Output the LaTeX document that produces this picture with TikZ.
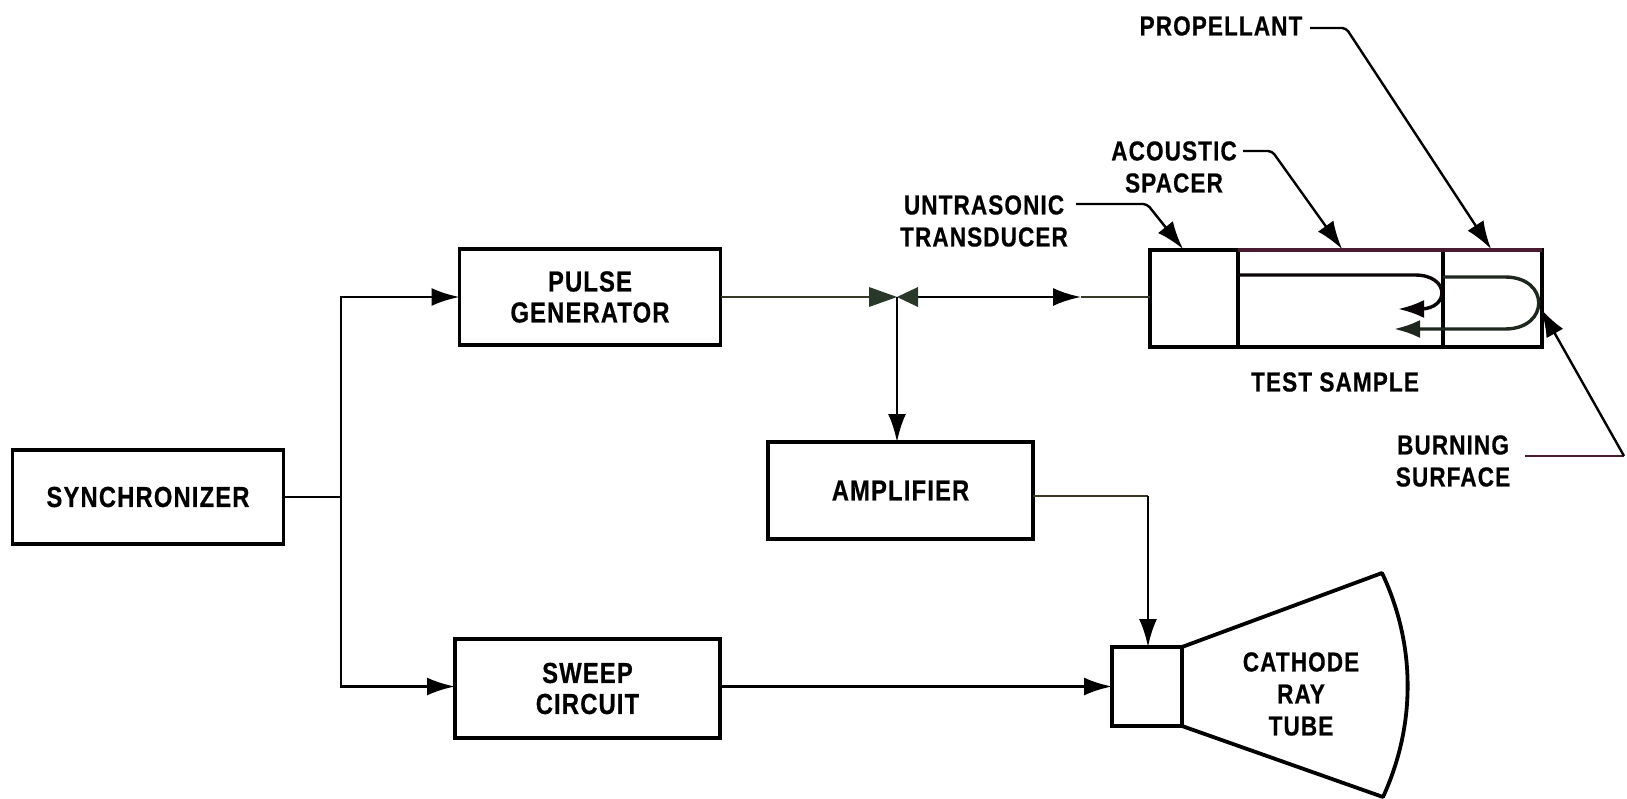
\documentclass[tikz,border=0pt]{standalone}
\usepackage{fontspec}
\setmainfont[FakeStretch=0.82,LetterSpace=4,FakeBold=0.5]{Liberation Sans Bold}
\usetikzlibrary{arrows.meta,calc}
\definecolor{maroon}{HTML}{4A1A30}
\definecolor{dkgreen}{HTML}{2A382A}
\definecolor{olive}{HTML}{353A26}
\definecolor{brownish}{HTML}{3E3620}
\tikzset{
  blockbox/.style={draw=black,line width=3.4pt,outer sep=0pt,inner sep=0pt,align=center,font=\fontsize{29}{31}\selectfont,fill=white},
  plain/.style={draw=black,line width=3.4pt,outer sep=0pt,inner sep=0pt,fill=white},
  lbl/.style={inner sep=0pt,align=center,font=\fontsize{27.5}{32}\selectfont},
  wire/.style={line width=2.8pt,draw=black},
  tip/.style={-{Latex[length=28pt,width=18pt]}},
  ptr/.style={line width=2.4pt,-{Latex[length=28pt,width=19pt]},rounded corners=4pt},
}
\begin{document}
\begin{tikzpicture}[x=1pt,y=-1pt]
\useasboundingbox (0,0) rectangle (1627,799);
% blocks
\node[blockbox,minimum width=271pt,minimum height=94pt] (sync) at (148,497) {\raisebox{-3pt}{SYNCHRONIZER}};
\node[blockbox,minimum width=261pt,minimum height=96pt] (pulse) at (590,297) {PULSE\\GENERATOR};
\node[blockbox,minimum width=265pt,minimum height=97pt] (amp) at (900.5,490.5) {\raisebox{-3pt}{AMPLIFIER}};
\node[blockbox,minimum width=265pt,minimum height=99pt] (sweep) at (587.5,688.5) {SWEEP\\CIRCUIT};
\node[plain,minimum width=70pt,minimum height=79pt] (gun) at (1147,686.5) {};
% test sample
\node[plain,minimum width=88pt,minimum height=97pt] (trans) at (1194,298.5) {};
\node[plain,minimum width=205pt,minimum height=97pt] (spacer) at (1340.5,298.5) {};
\node[plain,minimum width=99pt,minimum height=97pt] (prop) at (1492.5,298.5) {};
\draw[maroon,line width=3.4pt] (spacer.north west) -- (prop.north east);
% tube
\coordinate (tubetop) at (1382,573);
\coordinate (tubebot) at (1383,797);
\draw[line width=3.8pt,line join=round] (gun.north east) -- (tubetop)
  .. controls (1416,645) and (1416,725) .. (tubebot) -- (gun.south east);
% junctions
\coordinate (branch) at (341,497);
\coordinate (bow) at (897,297);
\draw[wire] (sync.east) -- (branch);
\draw[wire,tip] (branch) |- (pulse.west);
\draw[wire,tip] (branch) |- (sweep.west |- gun.west);
\coordinate (bowl) at (869,297);
\coordinate (bowr) at (918,297);
\draw[wire,olive] (pulse.east) -- (bowl);
\fill[dkgreen] (869,287) -- (bow) -- (869,307) -- cycle;
\fill[dkgreen] (918,287) -- (bow) -- (918,307) -- cycle;
\coordinate (midtip) at (1081,297);
\draw[wire,olive] (midtip) -- (trans.west |- midtip);
\draw[wire,tip] (bowr) -- (midtip);
\draw[wire,tip] (bow) -- (bow |- amp.north);
\coordinate (ampdrop) at (1148,496);
\draw[wire,brownish] (amp.east |- ampdrop) -- (ampdrop);
\draw[wire,tip] (ampdrop) -- (ampdrop |- gun.north);
\draw[wire,tip] (sweep.east |- gun.west) -- (gun.west);
% echoes in the sample
\coordinate (e1s) at (1238,275);
\coordinate (e1t) at (1398,309);
\coordinate (e2s) at (1443,277);
\coordinate (e2t) at (1394,329);
\draw[line width=3.4pt,-{Latex[length=26pt,width=18pt]},black!85!maroon] (e1s) -- (1415,275)
  .. controls (1450,275) and (1450,309) .. (1420,309) -- (e1t);
\draw[line width=3.4pt,-{Latex[length=26pt,width=18pt]},dkgreen!70!black] (e2s) -- (1505,277)
  .. controls (1550,277) and (1550,329) .. (1505,329) -- (e2t);
% labels and pointers
\node[lbl] (proplbl) at (1221,26) {PROPELLANT};
\node[lbl] (acolbl) at (1174,167) {ACOUSTIC\\SPACER};
\node[lbl] (uttlbl) at (984,221) {UNTRASONIC\\TRANSDUCER};
\node[lbl] (burnlbl) at (1453,461) {BURNING\\SURFACE};
\node[lbl] (testlbl) at (1335,382) {TEST SAMPLE};
\node[lbl] (crtlbl) at (1301,694) {CATHODE\\RAY\\TUBE};
\coordinate (pk1) at (1346,28);
\coordinate (pk2) at (1272,151);
\coordinate (pk3) at (1147,204);
\coordinate (pk4) at (1624,456);
\coordinate (pp1) at (1491,249);
\coordinate (pp2) at (1342,249);
\coordinate (pp3) at (1183,249);
\coordinate (pp4) at (1541,309);
\coordinate (ps1) at (1310,28);
\coordinate (ps2) at (1243,151);
\coordinate (ps3) at (1076,204);
\coordinate (ps4) at (1525,456);
\draw[ptr] (ps1) -- (pk1) -- (pp1);
\draw[ptr] (ps2) -- (pk2) -- (pp2);
\draw[ptr] (ps3) -- (pk3) -- (pp3);
\draw[line width=2.4pt,maroon] (ps4) -- (pk4);
\draw[line width=2.4pt,-{Latex[length=28pt,width=19pt]}] (pk4) -- (pp4);
\end{tikzpicture}
\end{document}
